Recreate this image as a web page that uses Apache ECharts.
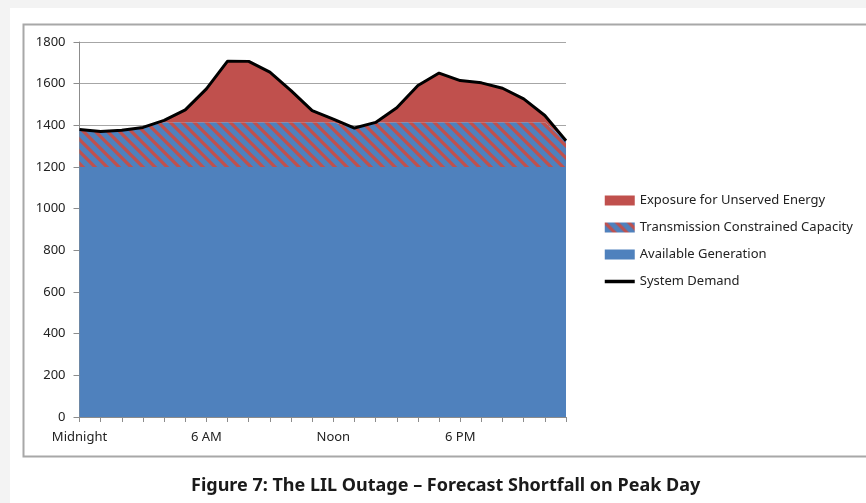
<!DOCTYPE html>
<html>
<head>
<meta charset="utf-8">
<script src="https://cdn.jsdelivr.net/npm/echarts@6/dist/echarts.min.js"></script>
<style>
html,body{margin:0;padding:0;background:#fff;}
#chart{width:866px;height:503px;}
</style>
</head>
<body>
<div id="chart"></div>
<script>
// ---- Data ----
var hours = ['Midnight','1 AM','2 AM','3 AM','4 AM','5 AM','6 AM','7 AM','8 AM','9 AM','10 AM','11 AM',
             'Noon','1 PM','2 PM','3 PM','4 PM','5 PM','6 PM','7 PM','8 PM','9 PM','10 PM','11 PM'];
var systemDemand = [1380,1370,1376,1390,1424,1474,1575,1708,1707,1655,1567,1471,
                    1430,1387,1414,1484,1591,1651,1615,1604,1578,1527,1447,1326];
var availableGeneration = [1200,1200,1200,1200,1200,1200,1200,1200,1200,1200,1200,1200,
                           1200,1200,1200,1200,1200,1200,1200,1200,1200,1200,1200,1200];
var transmissionConstrained = [180,170,176,190,215,215,215,215,215,215,215,215,
                               215,187,214,215,215,215,215,215,215,215,215,126];
var exposureUnserved = [0,0,0,0,9,59,160,293,292,240,152,56,
                        15,0,0,69,176,236,200,189,163,112,32,0];
var yTicks = [0,200,400,600,800,1000,1200,1400,1600,1800];

var BLUE = '#4F81BD', RED = '#C0504D';

function makeHatch(){
  var s = 12;
  var c = document.createElement('canvas');
  c.width = s; c.height = s;
  var ctx = c.getContext('2d');
  ctx.fillStyle = BLUE; ctx.fillRect(0,0,s,s);
  ctx.strokeStyle = RED; ctx.lineWidth = 3.2;
  ctx.beginPath();
  [-s,0,s].forEach(function(o){ ctx.moveTo(o-2,-2); ctx.lineTo(o+s+2,s+2); });
  ctx.stroke();
  return c;
}
var hatch = {image: makeHatch(), repeat: 'repeat'};
var FONT = 'Noto Sans';

var chart = echarts.init(document.getElementById('chart'), null, {renderer:'canvas'});
chart.setOption({
  backgroundColor: '#ffffff',
  animation: false,
  graphic: [
    {type:'rect', shape:{x:0,y:0,width:866,height:8}, style:{fill:'#f3f3f3'}, silent:true, z:-10},
    {type:'rect', shape:{x:0,y:0,width:10,height:503}, style:{fill:'#f3f3f3'}, silent:true, z:-10},
    {type:'rect', shape:{x:23.5,y:24.5,width:900,height:432}, style:{fill:'none', stroke:'#a8a8a8', lineWidth:2}, silent:true, z:-5}
  ],
  title: {
    text: 'Figure 7: The LIL Outage \u2013 Forecast Shortfall on Peak Day',
    left: 186, top: 472,
    textStyle: {fontFamily: FONT, fontSize: 18, fontWeight: 'bold', color: '#1a1a1a'}
  },
  legend: {
    orient: 'vertical', left: 598, top: 188,
    itemWidth: 30, itemHeight: 10, itemGap: 12,
    textStyle: {fontFamily: FONT, fontSize: 13, color: '#222', lineHeight: 15},
    data: [
      {name:'Exposure for Unserved Energy', icon:'rect', itemStyle:{color:RED}},
      {name:'Transmission Constrained Capacity', icon:'rect', itemStyle:{color:hatch}},
      {name:'Available Generation', icon:'rect', itemStyle:{color:BLUE}},
      {name:'System Demand', itemStyle:{opacity:0}, lineStyle:{color:'#000', width:3.5}}
    ]
  },
  grid: {left: 79.5, right: 300, top: 42, bottom: 86, containLabel: false},
  xAxis: {
    type: 'category', data: hours, boundaryGap: false,
    axisLine: {lineStyle: {color: '#8c8c8c', width: 1}},
    axisTick: {interval: 0, length: 5, lineStyle: {color: '#8c8c8c'}},
    axisLabel: {interval: 5, margin: 14, fontFamily: FONT, fontSize: 13, color: '#222'},
    splitLine: {show: false}
  },
  yAxis: {
    type: 'value', min: yTicks[0], max: yTicks[yTicks.length-1], interval: yTicks[1]-yTicks[0],
    axisLine: {show: true, lineStyle: {color: '#8c8c8c', width: 1}},
    axisTick: {show: true, length: 6, lineStyle: {color: '#8c8c8c'}},
    axisLabel: {margin: 14, fontFamily: FONT, fontSize: 13, color: '#222',
                formatter: function(v){ return String(v); }},
    splitLine: {show: true, lineStyle: {color: '#a6a6a6', width: 1}}
  },
  series: [
    {name:'Available Generation', type:'line', stack:'supply', data: availableGeneration,
     symbol:'none', lineStyle:{width:0}, itemStyle:{color:BLUE},
     areaStyle:{color:BLUE, opacity:1}, z:2},
    {name:'Transmission Constrained Capacity', type:'line', stack:'supply', data: transmissionConstrained,
     symbol:'none', lineStyle:{width:0}, itemStyle:{color:RED},
     areaStyle:{color:hatch, opacity:1}, z:2},
    {name:'Exposure for Unserved Energy', type:'line', stack:'supply', data: exposureUnserved,
     symbol:'none', lineStyle:{width:0}, itemStyle:{color:RED},
     areaStyle:{color:RED, opacity:1}, z:2},
    {name:'System Demand', type:'line', data: systemDemand,
     symbol:'none', lineStyle:{color:'#000', width:3}, itemStyle:{color:'#000'}, z:5}
  ]
});
</script>
</body>
</html>
